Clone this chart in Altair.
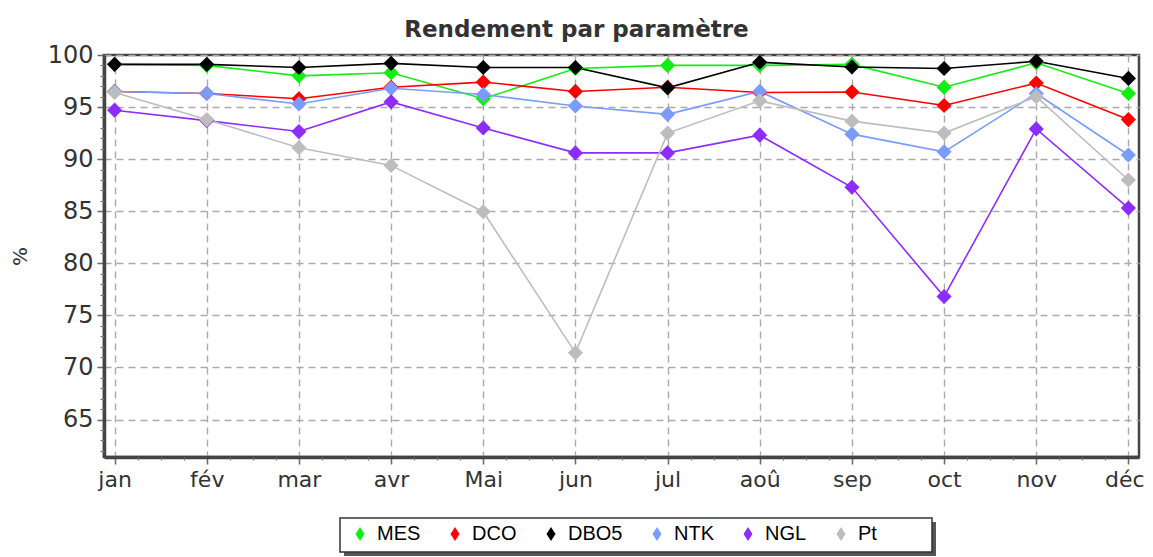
import json
import altair as alt
import pandas as pd

months = ["jan", "fév", "mar", "avr", "Mai", "jun", "jul", "aoû", "sep", "oct", "nov", "déc"]
series_names = ["MES", "DCO", "DBO5", "NTK", "NGL", "Pt"]
series_colors = ["#11ee11", "#ff0000", "#000000", "#7b9bff", "#8c2cff", "#bdbdbd"]

mes = [99.1, 99.0, 98.0, 98.3, 95.8, 98.7, 99.0, 99.0, 99.1, 96.9, 99.25, 96.3]
dco = [96.5, 96.3, 95.8, 96.9, 97.4, 96.5, 96.9, 96.4, 96.45, 95.15, 97.3, 93.8]
dbo5 = [99.1, 99.1, 98.8, 99.2, 98.8, 98.8, 96.85, 99.3, 98.85, 98.7, 99.4, 97.75]
ntk = [96.5, 96.3, 95.3, 96.8, 96.2, 95.1, 94.3, 96.5, 92.4, 90.7, 96.3, 90.4]
ngl = [94.7, 93.7, 92.65, 95.5, 93.0, 90.6, 90.6, 92.3, 87.3, 76.8, 92.9, 85.3]
pt = [96.4, 93.8, 91.1, 89.4, 84.95, 71.4, 92.5, 95.6, 93.65, 92.5, 96.0, 88.0]

y_major = [65, 70, 75, 80, 85, 90, 95, 100]
y_minor = [v for v in range(62, 100) if v % 5 != 0]

rows = []
for s, vals in zip(series_names, [mes, dco, dbo5, ntk, ngl, pt]):
    for i, (m, v) in enumerate(zip(months, vals)):
        rows.append({"serie": s, "idx": i, "mois": m, "val": v})
df = pd.DataFrame(rows)

last = len(months) - 1
x_minor = [i + f for i in range(last) for f in (0.25, 0.5, 0.75)]
label_expr = json.dumps(months, ensure_ascii=False) + "[datum.value]"

xscale = alt.Scale(domain=[-0.115, last + 0.115], nice=False, zero=False)
yscale = alt.Scale(domain=[61.4, 100], nice=False, zero=False)
cscale = alt.Scale(domain=series_names, range=series_colors)

x_major_axis = alt.Axis(
    values=list(range(len(months))), labelExpr=label_expr, title=None,
    labelFont="DejaVu Sans", labelFontSize=22, labelColor="#333", labelPadding=5,
    labelOffset={"condition": {"test": f"datum.value == {last}", "value": -4}, "value": 0},
    tickSize=7, tickColor="#666", tickWidth=1.5,
    domainColor="#444", domainWidth=3.5,
    grid=True, gridDash=[7, 5], gridColor="#aaaaaa", gridWidth=1.4, orient="bottom",
)
y_major_axis = alt.Axis(
    values=y_major, title="%", titleFont="DejaVu Sans", titleFontSize=20, titleFontWeight="normal",
    titleColor="#333", titleX=-84, titleY=201, titleAngle=270, titleAlign="center", titleBaseline="middle",
    labelFont="DejaVu Sans", labelFontSize=24, labelColor="#333", labelPadding=4,
    tickSize=7, tickColor="#666", tickWidth=1.5,
    domainColor="#444", domainWidth=3.5,
    grid=True, gridDash=[7, 5], gridColor="#aaaaaa", gridWidth=1.4, orient="left",
)
x_minor_axis = alt.Axis(values=x_minor, labels=False, title=None, domain=False, grid=False,
                        tickSize=3, tickColor="#777", tickWidth=1.2, orient="bottom")
y_minor_axis = alt.Axis(values=y_minor, labels=False, title=None, domain=False, grid=False,
                        tickSize=4, tickColor="#777", tickWidth=1.2, orient="left")

lines = alt.Chart(df).mark_line(strokeWidth=1.6).encode(
    x=alt.X("idx:Q", scale=xscale, axis=x_major_axis),
    y=alt.Y("val:Q", scale=yscale, axis=y_major_axis),
    color=alt.Color("serie:N", scale=cscale, legend=None),
    detail="serie:N",
)

points = alt.Chart(df).mark_point(shape="diamond", filled=True, size=230, opacity=1).encode(
    x=alt.X("idx:Q", scale=xscale, axis=x_minor_axis),
    y=alt.Y("val:Q", scale=yscale, axis=y_minor_axis),
    color=alt.Color(
        "serie:N", scale=cscale, sort=series_names,
        legend=alt.Legend(
            orient="none", legendX=246, legendY=469, direction="horizontal", title=None,
            symbolType="M0,-1.4L0.9,0L0,1.4L-0.9,0Z", symbolSize=100, symbolStrokeWidth=0,
            labelFont="Liberation Sans", labelFontSize=20, labelColor="#000",
            labelOffset=7, columnPadding=24, padding=0, zindex=5,
        ),
    ),
)

box = pd.DataFrame({"a": [0]})
shadow = alt.Chart(box).mark_rect(color="#555", clip=False).encode(
    x=alt.value(240), x2=alt.value(832), y=alt.value(467), y2=alt.value(501)
)
frame = alt.Chart(box).mark_rect(fill="white", stroke="#333", strokeWidth=1.5, clip=False).encode(
    x=alt.value(236), x2=alt.value(828), y=alt.value(463), y2=alt.value(497)
)

chart = alt.layer(shadow, frame, lines, points).resolve_axis(
    x="independent", y="independent"
).resolve_legend(color="independent").properties(
    width=1035, height=402,
    title=alt.Title("Rendement par paramètre", font="DejaVu Sans", fontSize=23, fontWeight="bold",
                    color="#333", anchor="middle", frame="group", dx=-45, offset=1),
    padding={"left": 96, "top": 47, "right": 6, "bottom": 100},
    autosize="none",
    background="white",
).configure_view(stroke="#444", strokeWidth=2.5, fill="white")

chart.save("out.html", embed_options={"renderer": "svg", "actions": False})
